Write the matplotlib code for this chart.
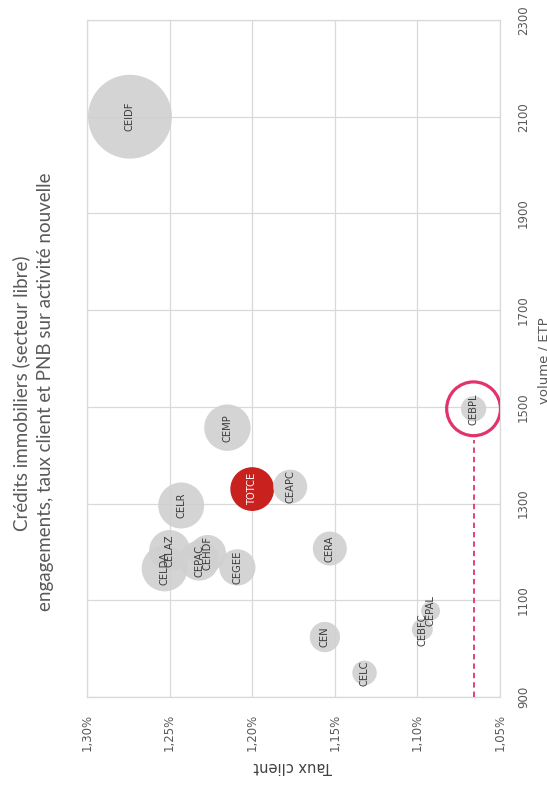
import matplotlib
matplotlib.use("Agg")
import matplotlib.pyplot as plt
from matplotlib.ticker import FuncFormatter

# ---- data ----
caisses = ["CEIDF", "CEMP", "CELR", "CELDA", "CELAZ", "CEPAC", "CEHDF", "CEGEE",
           "TOTCE", "CEAPC", "CERA", "CEN", "CELC", "CEBPL", "CEBFC", "CEPAL"]
taux_client = [1.274, 1.215, 1.243, 1.253, 1.250, 1.232, 1.227, 1.209,
               1.200, 1.177, 1.153, 1.156, 1.132, 1.066, 1.097, 1.092]
volume_etp = [2100, 1457, 1296, 1166, 1203, 1182, 1197, 1168,
              1330, 1335, 1207, 1024, 950, 1496, 1040, 1078]
pnb = [17.6, 5.4, 5.3, 5.3, 4.2, 4.0, 3.4, 3.3,
       4.8, 2.9, 2.9, 2.3, 1.5, 1.6, 1.1, 0.9]
highlight = "CEBPL"
total_name = "TOTCE"

x_ticks = [1.30, 1.25, 1.20, 1.15, 1.10, 1.05]
y_ticks = [900, 1100, 1300, 1500, 1700, 1900, 2100, 2300]

title_lines = ["Crédits immobiliers (secteur libre)",
               "engagements, taux client et PNB sur activité nouvelle"]

# ---- figure ----
fig = plt.figure(figsize=(5.47, 7.85), dpi=100)
W, H = 547, 785
ax = fig.add_axes([87 / W, 1 - 697 / H, (500 - 87) / W, (697 - 20) / H])

grid_c = "#d9d9d9"
ax.set_xlim(x_ticks[0], x_ticks[-1])
ax.set_ylim(y_ticks[0], y_ticks[-1])
ax.set_xticks(x_ticks)
ax.set_yticks(y_ticks)
ax.grid(True, color=grid_c, lw=0.9)
ax.set_axisbelow(True)
for s in ax.spines.values():
    s.set_color(grid_c)
    s.set_linewidth(0.9)

ax.xaxis.set_major_formatter(FuncFormatter(lambda v, p: f"{v:.2f}%".replace(".", ",")))
ax.yaxis.tick_right()
ax.tick_params(axis="both", length=0, labelsize=8.5, labelcolor="#595959")
ax.tick_params(axis="x", pad=12)
ax.tick_params(axis="y", pad=17)
for lab in ax.get_xticklabels():
    lab.set_rotation(90)
for lab in ax.get_yticklabels():
    lab.set_rotation(90)
    lab.set_va("center")
    lab.set_ha("center")

scale = 2.07 * 100  # pt^2 per unit of PNB
colors = ["#c9211e" if c == total_name else "#d0d0d0" for c in caisses]
alphas = [1.0 if c == total_name else 0.9 for c in caisses]
for c, xv, yv, p, col, a in zip(caisses, taux_client, volume_etp, pnb, colors, alphas):
    ax.scatter([xv], [yv], s=p * scale, color=col, alpha=a, edgecolors="none", zorder=3)
for c, xv, yv in zip(caisses, taux_client, volume_etp):
    ax.text(xv, yv, c, rotation=90, ha="center", va="center", fontsize=7.2,
            color="white" if c == total_name else "#3a3a3a", zorder=5)

# highlight circle + dashed line
hi = caisses.index(highlight)
ax.scatter([taux_client[hi]], [volume_etp[hi]], s=1500, facecolors="none",
           edgecolors="#e2336b", linewidths=2.3, zorder=6)
ax.plot([taux_client[hi], taux_client[hi]], [y_ticks[0], volume_etp[hi] - 65],
        color="#e2336b", lw=1.3, ls=(0, (3, 2.2)), zorder=6)

# axis titles
fig.text(293 / W, 1 - 767 / H, "Taux client", rotation=180, ha="center", va="center",
         fontsize=10.5, color="#404040")
fig.text(544 / W, 1 - 361 / H, "volume / ETP", rotation=90, ha="center", va="center",
         fontsize=9.5, color="#595959")

# chart title
fig.text(21 / W, 1 - 393 / H, title_lines[0], rotation=90, ha="center", va="center",
         fontsize=13.5, color="#595959", family="Lato")
fig.text(46 / W, 1 - 392 / H, title_lines[1], rotation=90, ha="center", va="center",
         fontsize=13.5, color="#595959", family="Lato")

fig.savefig("out.png", dpi=100, facecolor="white")
